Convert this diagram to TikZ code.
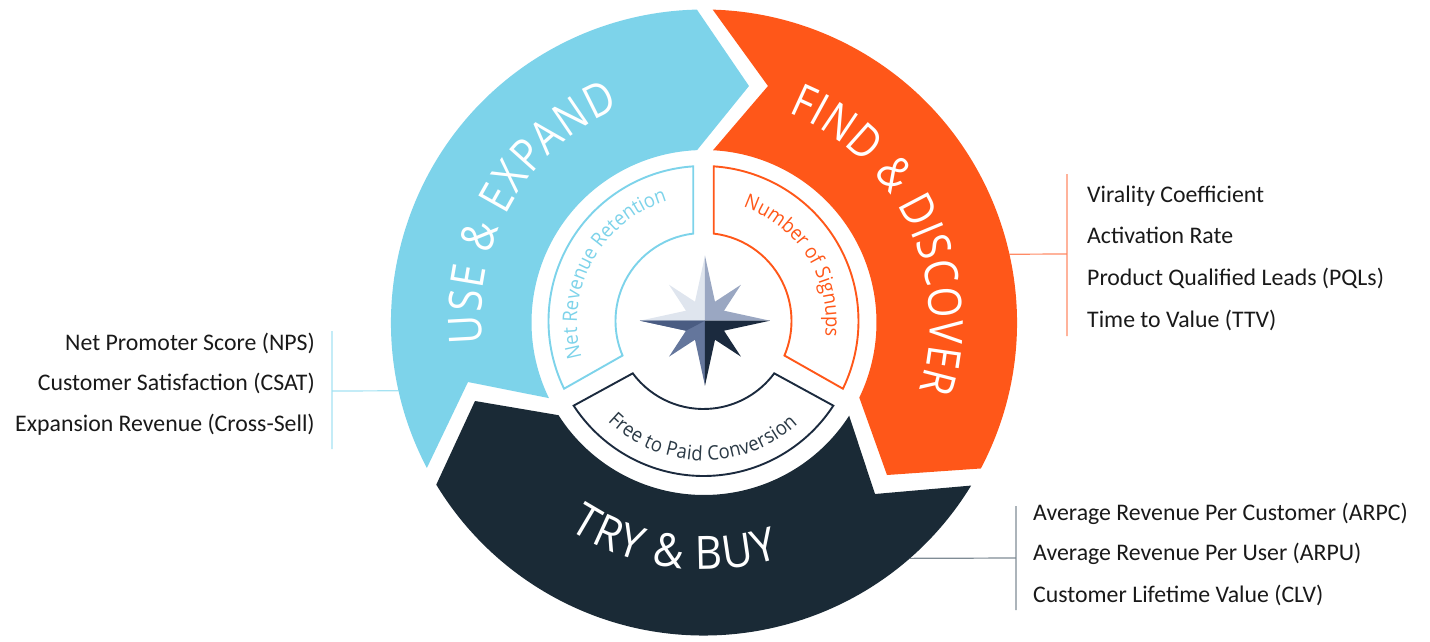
\documentclass[tikz,border=0pt]{standalone}
\usepackage{fontspec}
\setmainfont{Carlito}
\newfontfamily\arcfont[FakeStretch=0.86]{Open Sans}
\newfontfamily\widearcfont[FakeStretch=0.92]{Open Sans}
\usetikzlibrary{decorations.text, positioning}
\definecolor{useblue}{HTML}{7DD3EA}
\definecolor{findorange}{HTML}{FF5719}
\definecolor{trydark}{HTML}{1A2A36}
\definecolor{ringdark}{HTML}{1B2A3E}
\definecolor{trytext}{HTML}{2B3A46}
\definecolor{tryline}{HTML}{7F8C95}
\definecolor{findline}{HTML}{FF8A65}
\definecolor{useline}{HTML}{A5E2F2}
\definecolor{starlight}{HTML}{DFE5EE}
\definecolor{starmid}{HTML}{9AA7C2}
\definecolor{starlow}{HTML}{64769C}
\definecolor{starwest}{HTML}{4A5C82}
\newcommand{\bigarc}[1]{\color{#1}\arcfont\fontsize{46}{46}\selectfont}
\newcommand{\tryarc}[1]{\color{#1}\widearcfont\fontsize{46}{46}\selectfont}
\newcommand{\smallarc}[1]{\color{#1}\widearcfont\fontsize{20}{20}\selectfont}
\begin{document}
\begin{tikzpicture}[x=1pt, y=1pt,
    metric/.style={text=black!90, font=\fontsize{23.8}{23.8}\selectfont, inner sep=0pt},
    ringline/.style={line width=1.9pt, line join=miter, fill=white},
    barline/.style={line width=1.2pt}]
    \useasboundingbox (-704, -318.5) rectangle (726, 322.5);

    \def\R{313}
    \def\ringR{155}
    \def\ringr{88}

    \coordinate (useJoin) at (192.6:\R);
    \coordinate (findJoin) at (12.6:\R);
    \coordinate (tryJoin) at (-48.9:\R);
    \coordinate (useTop) at (-372, -8.5);
    \coordinate (useBottom) at (-372, -126.5);
    \coordinate (useMid) at (-372, -68.5);
    \coordinate (findTop) at (363, 148.5);
    \coordinate (findBottom) at (363, -13.5);
    \coordinate (findMid) at (363, 68.5);
    \coordinate (tryTop) at (312, -183.5);
    \coordinate (tryBottom) at (312, -287.5);
    \coordinate (tryMid) at (312, -235.5);

    \draw[useline, barline] (useTop) -- (useBottom) (useMid) -- (useJoin);
    \draw[findline, barline] (findTop) -- (findBottom) (findMid) -- (findJoin);
    \draw[tryline, barline] (tryTop) -- (tryBottom) (tryMid) -- (tryJoin);

    \fill[useblue] (91.3:\R) -- (45, 236.5) -- (92.3:172.5)
        arc[start angle=92.3, end angle=206, radius=172.5]
        -- (-236, -59.5) -- (207.7:\R)
        arc[start angle=207.7, end angle=91.3, radius=\R] -- cycle;
    \fill[findorange] (88.4:\R) -- (64, 236.5) -- (87:172.5)
        arc[start angle=87, end angle=-25.8, radius=172.5]
        -- (183, -152.5) -- (-27.8:\R)
        arc[start angle=-27.8, end angle=88.4, radius=\R] -- cycle;
    \fill[trydark] (-229, -78.5) -- (212.5:172.5)
        arc[start angle=212.5, end angle=327.3, radius=172.5]
        -- (171, -171.5) -- (-31.4:\R)
        arc[start angle=328.6, end angle=211.2, radius=\R] -- cycle;

    \begin{scope}[shift={(-0.5, 1.5)}]
        \draw[useblue, ringline] (93.8:\ringR) -- (96.7:\ringr)
            arc[radius=\ringr, start angle=96.7, end angle=203.1]
            -- (205.9:\ringR)
            arc[radius=\ringR, start angle=205.9, end angle=93.8] -- cycle;
        \draw[findorange, ringline] (86.2:\ringR) -- (83.3:\ringr)
            arc[radius=\ringr, start angle=83.3, end angle=-23.1]
            -- (-25.9:\ringR)
            arc[radius=\ringR, start angle=-25.9, end angle=86.2] -- cycle;
        \draw[ringdark, ringline] (213.1:\ringR) -- (216.5:\ringr)
            arc[radius=\ringr, start angle=216.5, end angle=323.5]
            -- (326.9:\ringR)
            arc[radius=\ringR, start angle=326.9, end angle=213.1] -- cycle;
    \end{scope}

    \begin{scope}[shift={(1, 1.8)}]
        \fill[starlight] (0, 0) -- (0, 65) -- (-10, 19) -- (-36, 36) -- (-19, 10) -- (-65, 0) -- cycle;
        \fill[starmid] (0, 0) -- (0, 65) -- (10, 19) -- (36, 36) -- (19, 10) -- (65, 0) -- cycle;
        \fill[starlow] (0, 0) -- (0, -65) -- (-10, -19) -- (-36, -36) -- (-19, -10) -- (-65, 0) -- cycle;
        \fill[starwest] (0, 0) -- (-65, 0) -- (-19, -10) -- cycle;
        \fill[ringdark] (0, 0) -- (0, -65) -- (10, -19) -- (36, -36) -- (19, -10) -- (65, 0) -- cycle;
    \end{scope}

    \path[decorate, decoration={text along path, text align=fit to path,
        text={|\bigarc{white}|USE {\&} EXPAND}}]
        (-221, -20.5) arc[start angle=186.7, end angle=112.8, radius=226];
    \path[decorate, decoration={text along path, text align=fit to path,
        text={|\bigarc{white}|FIND {\&} DISCOVER}}]
        (68:226) arc[start angle=68, end angle=-17.4, radius=226];
    \path[decorate, decoration={text along path, text align=fit to path,
        text={|\tryarc{white}|TRY {\&} BUY}}]
        (236.8:247) arc[start angle=236.8, end angle=287.7, radius=247];
    \path[decorate, decoration={text along path, text align=fit to path,
        text={|\smallarc{useblue}|Net Revenue Retention}}]
        (196:127) arc[start angle=196, end angle=109, radius=127];
    \path[decorate, decoration={text along path, text align=fit to path,
        text={|\smallarc{findorange}|Number of Signups}}]
        (71.3:122) arc[start angle=71.3, end angle=-5, radius=122];
    \path[decorate, decoration={text along path, text align=fit to path,
        text={|\smallarc{trytext}|Free to Paid Conversion}}]
        (225.7:138) arc[start angle=225.7, end angle=312.8, radius=138];

    \node (npsLabel) at (-389, -27.5)[metric, anchor=base east] {Net Promoter Score (NPS)};
    \node (csatLabel) at (-389, -67.5)[metric, anchor=base east] {Customer Satisfaction (CSAT)};
    \node (crossLabel) at (-389, -109)[metric, anchor=base east] {Expansion Revenue (Cross-Sell)};

    \node (viralLabel) at (383, 120.5)[metric, anchor=base west] {Virality Coefficient};
    \node (activLabel) at (383, 79.5)[metric, anchor=base west] {Activation Rate};
    \node (pqlLabel) at (383, 37.5)[metric, anchor=base west] {Product Qualified Leads (PQLs)};
    \node (ttvLabel) at (383, -4.5)[metric, anchor=base west] {Time to Value (TTV)};

    \node (arpcLabel) at (329, -197.5)[metric, anchor=base west] {Average Revenue Per Customer (ARPC)};
    \node (arpuLabel) at (329, -238.2)[metric, anchor=base west] {Average Revenue Per User (ARPU)};
    \node (clvLabel) at (329, -279.8)[metric, anchor=base west] {Customer Lifetime Value (CLV)};
\end{tikzpicture}
\end{document}
